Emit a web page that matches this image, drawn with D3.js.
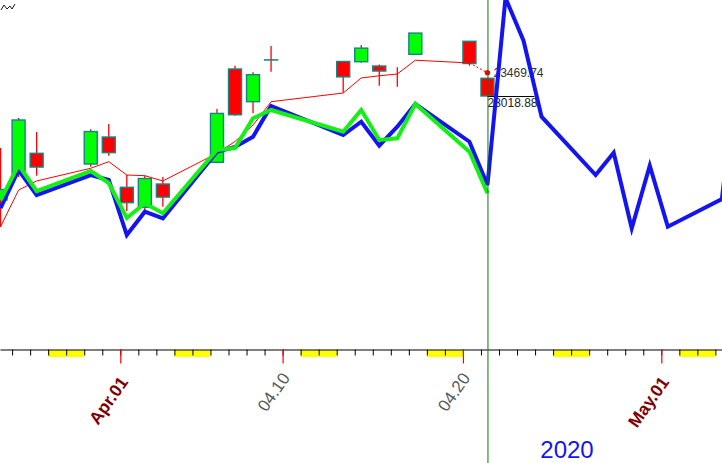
<!DOCTYPE html>
<html><head><meta charset="utf-8">
<script src="https://cdn.jsdelivr.net/npm/d3@7"></script>
<style>html,body{margin:0;padding:0;background:#fff;overflow:hidden;} svg{display:block;}</style>
</head><body>
<script>
// ---- data ----
const tradeDates = ["2020-03-25","2020-03-26","2020-03-27","2020-03-30","2020-03-31","2020-04-01","2020-04-02","2020-04-03","2020-04-06","2020-04-07","2020-04-08","2020-04-09","2020-04-13","2020-04-14","2020-04-15","2020-04-16","2020-04-17","2020-04-20","2020-04-21"];
const opens  = [20996,21502,21904,21696,22221,21243,20854,21307,21729,23544,22908,23722,23690,23686,23602,23447,23830,24083,23363];
const highs  = [22007,22591,22319,22371,22474,21482,21469,21443,22766,23608,23480,23991,23690,24011,23631,23577,24244,24089,23363];
const lows   = [20471,21443,21469,21644,21858,20782,20802,20866,21710,22636,22682,23491,23087,23666,23217,23200,23816,23608,23018.88];
const closes = [21200.55,22552.17,21636.78,22327.48,21917.16,20943.51,21413.44,21052.53,22679.99,22653.86,23433.57,23719.37,23390.77,23949.76,23504.35,23447,24242.49,23650.44,23018.88];
const maValues = [20477,21190,21366,21613,21741,21482,21469,21366,21904,22134,22455,22908,23077,23369,23412,23447,23715,23661,23469.74];
const greenValues = [20996,21677,21171,21560,21327,20646,20932,20737,21969,22007,22585,22747,22324,22747,22163,22196,22863,21935,21126];
const blueDates = tradeDates.concat(["2020-04-22","2020-04-23","2020-04-24","2020-04-27","2020-04-28","2020-04-29","2020-04-30","2020-05-01","2020-05-04","2020-05-05"]);
const blueValues = [20840,21580,21093,21482,21385,20315,20768,20640,21935,22027,22227,22824,22260,22519,22052,22422,22863,22130,21288,
                    24925,24094,22616,21482,21916,20446,21663,20477,21015,24108];
const labelDates = ["2020-04-01","2020-04-10","2020-04-20","2020-05-01"];
const labelTexts = ["Apr.01","04.10","04.20","May.01"];
const labelIsMonth = [true,false,false,true];
const yearLabel = "2020";
const maLabel = "23469.74";
const closeLabel = "23018.88";

// ---- layout ----
const W = 722, H = 463, axisY = 349;
const parse = d3.utcParse("%Y-%m-%d");
const xs = d3.scaleUtc().domain([parse("2020-04-01"), parse("2020-05-01")]).range([120.3, 661.3]);
const x = xs.copy().domain([xs.invert(0), xs.invert(W)]).range([0, W]);
const y = d3.scaleLinear().domain([18078.6, 24886]).range([350, 0]);
const half = 6.5;              // candle half width; candle sits right of its day tick
const cx = d => x(parse(d)) + half;

const svg = d3.select("body").append("svg").attr("width", W).attr("height", H)
  .style("font-family", "'Liberation Sans', Arial, sans-serif");

svg.append("defs").append("clipPath").attr("id","plot")
  .append("rect").attr("x",0).attr("y",0).attr("width",W).attr("height",axisY);

// small icon top-left
svg.append("path").attr("d","M1,10 L4,5 L7,9 L10,6 L12,9 L15,4")
  .attr("fill","none").attr("stroke","#000").attr("stroke-width",0.9);

// ---- x axis ----
const allDays = d3.utcDay.range(d3.utcDay.ceil(x.invert(0)), x.invert(W));
const weekend = allDays.filter(d => d.getUTCDay() === 6 || d.getUTCDay() === 0);
svg.append("g").selectAll("rect").data(weekend).join("rect")
  .attr("x", d => x(d)).attr("width", d => x(d3.utcDay.offset(d,1)) - x(d))
  .attr("y", axisY + 1).attr("height", 7).attr("fill", "#ffff00");

const axis = d3.axisBottom(x).tickValues(allDays).tickSize(6).tickSizeOuter(0).tickFormat("");
const gAxis = svg.append("g").attr("transform", `translate(0,${axisY}.5)`).call(axis);
gAxis.select(".domain").attr("stroke","#000").attr("stroke-width",1.2);
gAxis.selectAll(".tick line").attr("stroke","#000").attr("stroke-width",1);

const redAxis = d3.axisBottom(x).tickValues(labelDates.map(parse)).tickSize(14).tickSizeOuter(0).tickFormat("");
const gRed = svg.append("g").attr("transform", `translate(0,${axisY}.5)`).call(redAxis);
gRed.select(".domain").remove();
gRed.selectAll(".tick line").attr("stroke","#ff0000").attr("stroke-width",1.2);

svg.append("g").selectAll("text").data(labelDates).join("text")
  .attr("transform", (d,i) => `translate(${x(parse(d)) + (labelIsMonth[i] ? 8.5 : 8)},${labelIsMonth[i] ? 382 : 378}) rotate(-55)`)
  .attr("text-anchor","end")
  .attr("font-size", (d,i) => labelIsMonth[i] ? 17.5 : 17)
  .attr("font-weight", (d,i) => labelIsMonth[i] ? "bold" : "normal")
  .attr("fill", (d,i) => labelIsMonth[i] ? "#800000" : "#555a60")
  .text((d,i) => labelTexts[i]);

svg.append("text").attr("x", 567).attr("y", 458).attr("text-anchor","middle")
  .attr("font-size", 24).attr("fill", "#1414f0").text(yearLabel);

// ---- plot ----
const plot = svg.append("g").attr("clip-path","url(#plot)");

// candles
const candles = tradeDates.map((d,i) => ({d, o:opens[i], h:highs[i], l:lows[i], c:closes[i]}));
plot.append("g").selectAll("line").data(candles).join("line")
  .attr("x1", k => cx(k.d)).attr("x2", k => cx(k.d))
  .attr("y1", k => y(k.h)).attr("y2", k => y(k.l))
  .attr("stroke", "#ff0000").attr("stroke-width", 1.3);
plot.append("g").selectAll("rect").data(candles).join("rect")
  .attr("x", k => cx(k.d) - half).attr("width", half * 2)
  .attr("y", k => y(Math.max(k.o,k.c))).attr("height", k => Math.abs(y(k.o) - y(k.c)))
  .attr("fill", k => k.c > k.o ? "#00ff00" : "#ff0000")
  .attr("stroke", "#138585").attr("stroke-width", 1.4);

// MA line
const ma = tradeDates.map((d,i) => ({d, v: maValues[i]}));
const line = d3.line().x(p => cx(p.d)).y(p => y(p.v));
plot.append("path").datum(ma.slice(0, -1)).attr("d", line)
  .attr("fill","none").attr("stroke","#ff0000").attr("stroke-width",1);
plot.append("path").datum(ma.slice(-2)).attr("d", line)
  .attr("fill","none").attr("stroke","#ff0000").attr("stroke-width",1).attr("stroke-dasharray","2,2");
const lastMa = ma[ma.length-1];
plot.append("circle").attr("cx", cx(lastMa.d)).attr("cy", y(lastMa.v)).attr("r", 2.8).attr("fill","#ff0000");

// annotations
const lastC = candles[candles.length-1];
plot.append("text").attr("x", cx(lastMa.d) + 6).attr("y", y(lastMa.v) + 4)
  .attr("font-size", 12).attr("fill","#333").text(maLabel);
plot.append("line").attr("x1", cx(lastC.d)).attr("x2", cx(lastC.d) + 47)
  .attr("y1", y(lastC.c) + 0.5).attr("y2", y(lastC.c) + 0.5).attr("stroke","#000").attr("stroke-width",1);
plot.append("text").attr("x", cx(lastC.d)).attr("y", y(lastC.c) + 11)
  .attr("font-size", 12).attr("fill","#222").text(closeLabel);

// blue and green lines
const blue = blueDates.map((d,i) => ({d, v: blueValues[i]}));
const green = tradeDates.map((d,i) => ({d, v: greenValues[i]}));
plot.append("path").datum(blue).attr("d", line)
  .attr("fill","none").attr("stroke","#1414f0").attr("stroke-width",4).attr("stroke-linejoin","miter");
plot.append("path").datum(green).attr("d", line)
  .attr("fill","none").attr("stroke","#14f014").attr("stroke-width",4).attr("stroke-linejoin","miter");

// vertical current-day line
svg.append("line").attr("x1", cx(lastC.d) + 0.5).attr("x2", cx(lastC.d) + 0.5)
  .attr("y1", 0).attr("y2", H).attr("stroke", "#137013").attr("stroke-width", 1);
</script>
</body></html>
